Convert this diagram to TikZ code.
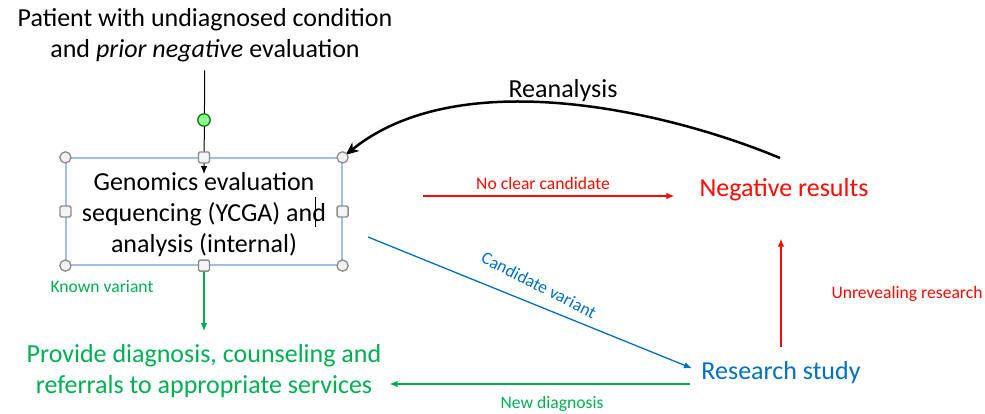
\documentclass[tikz,border=0pt]{standalone}
\usepackage{fontspec}
\setmainfont{Carlito}
\usepackage{tikz}
\usetikzlibrary{arrows.meta}
\definecolor{offred}{RGB}{255,10,0}
\definecolor{offgreen}{RGB}{0,176,80}
\definecolor{offblue}{RGB}{0,112,192}
\definecolor{selblue}{RGB}{160,190,235}
\definecolor{handlegray}{RGB}{140,140,140}
\tikzset{>={Latex[length=8pt,width=6.5pt]}}
\tikzset{
  bigtext/.style={inner sep=0pt, font=\fontsize{26}{31}\selectfont, align=center},
  smalltext/.style={inner sep=0pt, font=\fontsize{17.6}{21}\selectfont},
  selbox/.style={draw=selblue, line width=1.2pt, minimum width=276pt,
    minimum height=107pt, inner sep=0pt},
  cornerhandle/.style={draw=handlegray, fill=gray!12, line width=1.3pt},
  sidehandle/.style={draw=handlegray, fill=gray!8, line width=1.3pt, rounded corners=1.5pt},
  flow/.style={->, line width=1.3pt},
}

\begin{document}
\begin{tikzpicture}[x=1pt, y=-1pt]
  \useasboundingbox (0,0) rectangle (985,413);

  % text blocks
  \node[bigtext] (patient) at (205,35.3)
    {Patient with undiagnosed condition\\and \textit{prior negative} evaluation};
  \node[selbox] (gen) at (204,211.5) {};
  \node[bigtext] (gentext) at (204,214.7)
    {Genomics evaluation\\sequencing (YCGA) and\\analysis (internal)};
  \node[bigtext, text=offred, anchor=base] (neg) at (784,196) {Negative results};
  \node[bigtext, text=offblue, anchor=base] (res) at (781,379) {Research study};
  \node[bigtext, text=offgreen] (prov) at (204,371)
    {Provide diagnosis, counseling and\\referrals to appropriate services};

  % edge labels
  \node[bigtext, anchor=base] (reanlabel) at (563,97) {Reanalysis};
  \node[smalltext, text=offred, anchor=base] (nclabel) at (543,189) {No clear candidate};
  \node[smalltext, text=offred, anchor=base] (urlabel) at (907,298) {Unrevealing research};
  \node[smalltext, text=offblue, rotate=-27] (cvlabel) at (539,285) {Candidate variant};
  \node[smalltext, text=offgreen, anchor=base] (ndlabel) at (552,408) {New diagnosis};
  \node[smalltext, text=offgreen, anchor=base] (kvlabel) at (102,292) {Known variant};

  % loose ends
  \coordinate (gentip) at (204,174);
  \coordinate (rot) at (204,120);
  \coordinate (reanstart) at (780,158);
  \coordinate (ncstart) at (423,196);
  \coordinate (cvstart) at (368,237);
  \coordinate (ndstart) at (690,384);

  % arrows
  \draw[->, line width=1pt, shorten <=8pt] (patient) -- (gentip);
  \draw[line width=2.5pt, -{Stealth[length=13pt,width=11pt,inset=4pt]}, shorten >=4pt]
    (reanstart) .. controls (670,112) and (460,62) .. (gen.north east);
  \draw[flow, offred, shorten >=25pt] (ncstart) -- (neg.west |- ncstart);
  \draw[flow, offred, shorten <=14pt, shorten >=38pt] (res.north) -- (res.north |- neg.south);
  \draw[flow, offblue, shorten >=10pt] (cvstart) -- (res.west);
  \draw[flow, offgreen, shorten >=13pt] (gen.south) -- (prov.north);
  \draw[flow, offgreen, shorten >=8pt] (ndstart) -- (prov.east |- ndstart);

  % selection handles
  \draw[fill=green!45!white, draw=green!45!black, line width=1.2pt] (rot) circle (6.2pt);
  \foreach \a in {north west,north east,south west,south east}
    \draw[cornerhandle] (gen.\a) circle (5.6pt);
  \foreach \a in {north,south,east,west}
    \draw[sidehandle] ([shift={(-5.5pt,-5.5pt)}]gen.\a) rectangle ([shift={(5.5pt,5.5pt)}]gen.\a);
  \draw[line width=0.8pt] (315,197) -- (315,227);
\end{tikzpicture}
\end{document}
